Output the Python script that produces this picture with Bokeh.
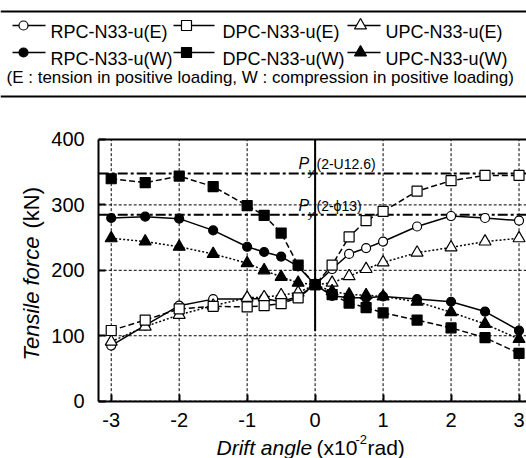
import math
from bokeh.plotting import figure
from bokeh.models import Range1d, FixedTicker, LinearAxis
from bokeh.embed import file_html
from bokeh.resources import INLINE
from bokeh.core.properties import value

# ---------------- data ----------------
drift = [-3, -2.5, -2, -1.5, -1, -0.75, -0.5, -0.25, 0, 0.25, 0.5, 0.75, 1, 1.5, 2, 2.5, 3]
rpc_e = [85, 116, 146, 156, 156, 157, 152, 160, 178, 202, 225, 234, 244, 267, 283, 280, 276]
dpc_e = [108, 124, 141, 145, 144, 146, 149, 158, 178, 208, 251, 276, 290, 321, 337, 345, 345]
upc_e = [91, 114, 132, 146, 158, 159, 162, 166, 178, 181, 191, 202, 212, 227, 235, 244, 249]
rpc_w = [280, 282, 279, 261, 236, 228, 221, 206, 178, 161, 158, 158, 160, 156, 152, 137, 108]
dpc_w = [340, 334, 344, 328, 299, 284, 257, 208, 178, 163, 150, 143, 135, 124, 112, 97, 73]
upc_w = [249, 244, 236, 225, 211, 200, 190, 181, 178, 168, 163, 162, 160, 152, 136, 118, 95]

py_u126 = 348
py_phi13 = 285

x_ticks = [-3, -2, -1, 0, 1, 2, 3]
y_ticks = [0, 100, 200, 300, 400]

series_names = ["RPC-N33-u(E)", "DPC-N33-u(E)", "UPC-N33-u(E)",
                "RPC-N33-u(W)", "DPC-N33-u(W)", "UPC-N33-u(W)"]
legend_note = "(E : tension in positive loading, W : compression in positive loading)"

FONT = "Liberation Sans"

styles = {
    "RPC-N33-u(E)": dict(marker="circle", fill="white", dash="solid", size=9),
    "DPC-N33-u(E)": dict(marker="square", fill="white", dash="6 3", size=10),
    "UPC-N33-u(E)": dict(marker="triangle", fill="white", dash="2 2", size=12),
    "RPC-N33-u(W)": dict(marker="circle", fill="black", dash="solid", size=9),
    "DPC-N33-u(W)": dict(marker="square", fill="black", dash="6 3", size=10),
    "UPC-N33-u(W)": dict(marker="triangle", fill="black", dash="2 2", size=12),
}
values = {
    "RPC-N33-u(E)": rpc_e, "DPC-N33-u(E)": dpc_e, "UPC-N33-u(E)": upc_e,
    "RPC-N33-u(W)": rpc_w, "DPC-N33-u(W)": dpc_w, "UPC-N33-u(W)": upc_w,
}

# plot area limits (data units)
X_LEFT, X_RIGHT = -3.184, 3.11
Y_BOTTOM, Y_TOP = 0, 400

W, H = 526, 458
p = figure(width=W, height=H, x_range=Range1d(-4.629, 3.110), y_range=Range1d(-87.6, 612.4),
           output_backend="svg", toolbar_location=None, min_border=0,
           x_axis_location=None, y_axis_location=None)
p.grid.visible = False
p.outline_line_color = None
p.background_fill_color = "white"
p.border_fill_color = "white"
p.extra_x_ranges = {"px": Range1d(0, W)}
p.extra_y_ranges = {"px": Range1d(H, 0)}
PX = dict(x_range_name="px", y_range_name="px")


def txt(x, y, s, size, style="normal", angle=0.0, align="left"):
    p.text([x], [y], text=[s], text_font=value(FONT), text_font_size=size,
           text_font_style=style, text_baseline="alphabetic", text_align=align,
           text_color="black", angle=angle, **PX)


# ---------------- grid ----------------
p.segment(x0=x_ticks, y0=[Y_BOTTOM] * len(x_ticks), x1=x_ticks, y1=[Y_TOP] * len(x_ticks),
          line_color="black", line_width=1, line_dash="3 2")
p.segment(x0=[X_LEFT] * len(y_ticks), y0=y_ticks, x1=[X_RIGHT] * len(y_ticks), y1=y_ticks,
          line_color="black", line_width=1, line_dash="3 2")

# ---------------- axes ----------------
def style_axis(ax, fs="20px"):
    ax.axis_line_width = 2
    ax.axis_line_color = "black"
    ax.major_tick_in = 7
    ax.major_tick_out = 0
    ax.major_tick_line_width = 2
    ax.minor_tick_line_color = None
    ax.major_label_text_font = FONT
    ax.major_label_text_font_size = fs
    ax.major_label_text_color = "black"

yax = LinearAxis(fixed_location=X_LEFT, bounds=(Y_BOTTOM, Y_TOP), ticker=FixedTicker(ticks=y_ticks))
style_axis(yax)
yax.major_label_overrides = {t: str(t) for t in y_ticks}
yax.major_label_standoff = 14
p.add_layout(yax, "left")

xax = LinearAxis(fixed_location=Y_BOTTOM, bounds=(X_LEFT, X_RIGHT), ticker=FixedTicker(ticks=x_ticks))
style_axis(xax)
xax.major_label_overrides = {t: str(t) for t in x_ticks}
xax.major_label_standoff = 12
p.add_layout(xax, "below")

# top frame line
p.segment(x0=[X_LEFT], y0=[Y_TOP], x1=[X_RIGHT], y1=[Y_TOP], line_color="black", line_width=2)

# yield load lines
for lvl in [py_u126, py_phi13]:
    p.segment(x0=[X_LEFT], y0=[lvl], x1=[X_RIGHT], y1=[lvl], line_color="black",
              line_width=2, line_dash="10 3 3 3")

# zero-drift solid line
zero_line_bottom = 107
p.segment(x0=[0], y0=[zero_line_bottom], x1=[0], y1=[Y_TOP], line_color="black", line_width=2)

# ---------------- series ----------------
order = ["RPC-N33-u(E)", "UPC-N33-u(E)", "DPC-N33-u(E)", "RPC-N33-u(W)", "UPC-N33-u(W)", "DPC-N33-u(W)"]
for name in order:
    p.line(drift, values[name], line_color="black", line_width=1.5, line_dash=styles[name]["dash"])
for name in order:
    st = styles[name]
    p.scatter(drift, values[name], marker=st["marker"], size=st["size"], fill_color=st["fill"],
              line_color="black", line_width=1.2)

# ---------------- Py labels ----------------
for base, label in [(163, "(2-U12.6)"), (205, "(2-\u03d513)")]:
    txt(298, base, "P", "16px", "italic")
    txt(308, base + 8.5, "y", "11px", "italic")
    txt(316, base, label, "14px")

# ---------------- axis titles ----------------
xb = 447
txt(216, xb, "Drift angle", "21px", "italic")
txt(316, xb, "(x10", "21px")
txt(355, xb - 8, "-2", "13px")
txt(367, xb, "rad)", "21px")

yb = 31
txt(yb, 360, "Tensile force", "22px", "italic", angle=math.pi / 2)
txt(yb, 228, "(kN)", "22px", angle=math.pi / 2)

# ---------------- legend ----------------
p.segment(x0=[0, 0], y0=[11, 96], x1=[W, W], y1=[11, 96], line_color="black", line_width=2, **PX)
col_line = [(12, 45, 23, 50), (173, 214, 186, 222), (347, 380, 360, 385)]
row_y = [25, 52]
for i, name in enumerate(series_names):
    r, c = divmod(i, 3)
    x0, x1, xm, xt = col_line[c]
    yy = row_y[r]
    st = styles[name]
    p.line([x0, x1], [yy, yy], line_color="black", line_width=1.5, **PX)
    p.scatter([xm], [yy], marker=st["marker"], size=st["size"], fill_color=st["fill"],
              line_color="black", line_width=1.2, **PX)
    txt(xt, yy + 6.3, name, "18px")
txt(6, 77, legend_note, "17px")

open("out.html", "w").write(file_html(p, INLINE))
